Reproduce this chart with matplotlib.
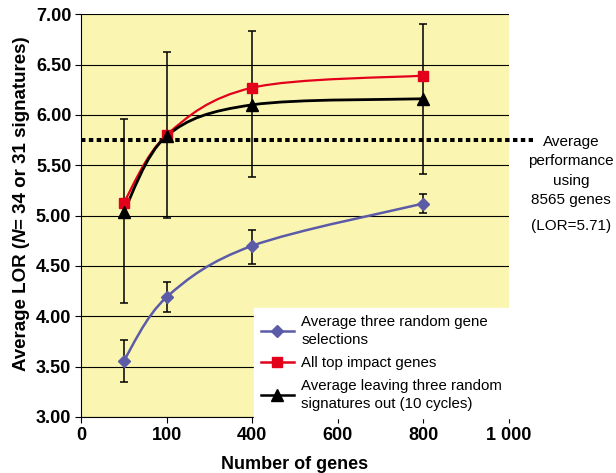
import matplotlib
matplotlib.use("Agg")
import matplotlib.pyplot as plt
import matplotlib.transforms as mtransforms
from matplotlib.path import Path
from matplotlib.patches import PathPatch
from matplotlib.lines import Line2D

plt.rcParams['font.family'] = ['Liberation Sans', 'DejaVu Sans']

# ------------------------------------------------------
# Values
# ------------------------------------------------------
x_pos = [100, 200, 400, 800]
x_ticks = [0, 200, 400, 600, 800, 1000]
x_tick_labels = ['0', '100', '400', '600', '800', '1 000']
y_ticks = [3.0, 3.5, 4.0, 4.5, 5.0, 5.5, 6.0, 6.5, 7.0]

random_sel = [3.56, 4.19, 4.70, 5.12]
random_lo = [3.35, 4.04, 4.52, 5.03]
random_hi = [3.76, 4.34, 4.86, 5.21]

top_impact = [5.13, 5.80, 6.27, 6.39]

leave_out = [5.04, 5.79, 6.10, 6.16]
leave_lo = [4.13, 4.98, 5.38, 5.41]
leave_hi = [5.96, 6.62, 6.83, 6.90]

baseline = 5.75

BLUE = '#5b5ba8'
RED = '#e3001b'
YELLOW = '#faf6b2'


# ------------------------------------------------------
# Smooth curve through the points (Excel-like "smoothed line")
# built from cubic Bezier segments.
# ------------------------------------------------------
def smooth_path(xs, ys):
    pts = list(zip(xs, ys))
    verts = [pts[0]]
    codes = [Path.MOVETO]
    n = len(pts)
    for i in range(n - 1):
        p0 = pts[max(i - 1, 0)]
        p1 = pts[i]
        p2 = pts[i + 1]
        p3 = pts[min(i + 2, n - 1)]
        c1 = (p1[0] + (p2[0] - p0[0]) / 6, p1[1] + (p2[1] - p0[1]) / 6)
        c2 = (p2[0] - (p3[0] - p1[0]) / 6, p2[1] - (p3[1] - p1[1]) / 6)
        verts += [c1, c2, p2]
        codes += [Path.CURVE4] * 3
    return Path(verts, codes)


fig = plt.figure(figsize=(6.16, 4.73), dpi=100)
ax = fig.add_axes([0.1315, 0.1184, 0.6948, 0.8516])
ax.set_facecolor(YELLOW)

ax.set_xlim(0, 1000)
ax.set_ylim(3.0, 7.0)
ax.set_xticks(x_ticks)
ax.set_xticklabels(x_tick_labels)
ax.set_yticks(y_ticks)
ax.set_yticklabels([f'{v:.2f}' for v in y_ticks])
ax.yaxis.grid(True, color='black', linewidth=0.8)
ax.set_axisbelow(True)
for s in ['top', 'right']:
    ax.spines[s].set_visible(False)
ax.tick_params(direction='out', length=4, width=0.8, labelsize=13, pad=3)
for lab in ax.get_xticklabels() + ax.get_yticklabels():
    lab.set_fontweight('bold')

# ----------- Baseline (dotted) ------------------
bl, = ax.plot([0, 1056], [baseline, baseline], color='black', linewidth=2.9,
              clip_on=False, zorder=2)
bl.set_dashes([1.1, 0.85])
bl.set_dash_capstyle('butt')

# ----------- Smoothed series lines --------------
ax.add_patch(PathPatch(smooth_path(x_pos, random_sel), fill=False,
                       edgecolor=BLUE, linewidth=1.8, zorder=3))
ax.add_patch(PathPatch(smooth_path(x_pos, top_impact), fill=False,
                       edgecolor=RED, linewidth=1.6, zorder=3))
ax.add_patch(PathPatch(smooth_path(x_pos, leave_out), fill=False,
                       edgecolor='black', linewidth=2.0, zorder=3.5))

# ----------- Error bars and markers -------------
ax.errorbar(x_pos, random_sel,
            yerr=[[v - lo for v, lo in zip(random_sel, random_lo)],
                  [hi - v for v, hi in zip(random_sel, random_hi)]],
            fmt='none', ecolor='black', elinewidth=1.1, capsize=3,
            capthick=1.1, zorder=4)
ax.errorbar(x_pos, leave_out,
            yerr=[[v - lo for v, lo in zip(leave_out, leave_lo)],
                  [hi - v for v, hi in zip(leave_out, leave_hi)]],
            fmt='none', ecolor='black', elinewidth=1.1, capsize=3,
            capthick=1.1, zorder=4)
ax.plot(x_pos, random_sel, linestyle='none', marker='D', markersize=6,
        color=BLUE, zorder=5)
ax.plot(x_pos, top_impact, linestyle='none', marker='s', markersize=7,
        color=RED, zorder=5)
ax.plot(x_pos, leave_out, linestyle='none', marker='^', markersize=8,
        color='black', zorder=6)

# ----------- Legend -----------------------------
handles = [
    Line2D([], [], color=BLUE, linewidth=1.8, marker='D', markersize=6),
    Line2D([], [], color=RED, linewidth=1.8, marker='s', markersize=7),
    Line2D([], [], color='black', linewidth=1.8, marker='^', markersize=8),
]
labels = ['Average three random gene\nselections',
          'All top impact genes',
          'Average leaving three random\nsignatures out (10 cycles)']
leg = ax.legend(handles, labels, loc='lower left',
                bbox_to_anchor=(0.404, -0.002, 0.598, 0.275), mode='expand',
                fontsize=10.8, frameon=True, fancybox=False, borderpad=0.45,
                handlelength=2.2, handletextpad=0.5, labelspacing=0.62,
                borderaxespad=0)
leg.get_frame().set_facecolor('white')
leg.get_frame().set_edgecolor('white')
leg.get_frame().set_alpha(1)
leg.set_zorder(10)
for t in leg.get_texts():
    t.set_linespacing(1.35)

# ----------- Axis labels ------------------------
ax.set_xlabel('Number of genes', fontsize=13, fontweight='bold', labelpad=9)

# y label assembled from pieces so that N is italic
ylab_parts = [('Average LOR (', 'normal'), ('N', 'italic'),
              ('= 34 or 31 signatures)', 'normal')]
renderer = fig.canvas.get_renderer()
offset = 0.0
for txt, style in ylab_parts:
    t = fig.text(21 / 616, 1 - 371 / 473, txt, rotation=90, fontsize=13.5,
                 fontweight='bold', fontstyle=style, ha='left', va='center',
                 rotation_mode='anchor',
                 transform=mtransforms.offset_copy(fig.transFigure, fig=fig,
                                                   x=0, y=offset,
                                                   units='dots'))
    bb = t.get_window_extent(renderer=renderer)
    offset += bb.height

# ----------- Right-side annotation --------------
fig.text(571 / 616, 1 - 171 / 473, 'Average\nperformance\nusing\n8565 genes',
         ha='center', va='center', fontsize=11, linespacing=1.5)
fig.text(571 / 616, 1 - 226 / 473, '(LOR=5.71)', ha='center', va='center',
         fontsize=11)

fig.savefig('out.png', dpi=100)
